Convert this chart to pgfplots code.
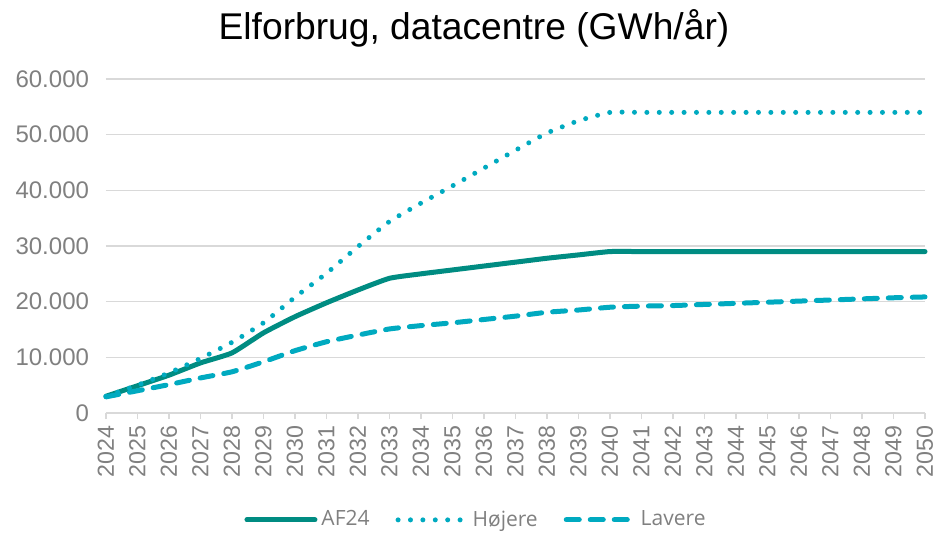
\documentclass[border=0pt]{standalone}
\usepackage{fontspec}
\setmainfont{Liberation Sans}
\newfontfamily\legfont{Open Sans}
\usepackage{pgfplots}
\pgfplotsset{compat=1.18}
\definecolor{afc}{RGB}{0,140,130}
\definecolor{hic}{RGB}{0,170,192}
\definecolor{tickc}{RGB}{128,128,128}
\definecolor{gridc}{RGB}{217,217,217}
\begin{document}
\begin{tikzpicture}
\path[use as bounding box] (0bp,0bp) rectangle (467.5bp,268.5bp);
\node[font=\fontsize{18.6bp}{21bp}\selectfont, anchor=center] at (237bp,254.5bp) {Elforbrug, datacentre (GWh/år)};
\begin{axis}[
  at={(53bp,62bp)}, anchor=south west,
  width=409.5bp, height=167bp, scale only axis,
  xmin=2024, xmax=2050, ymin=0, ymax=60000,
  xtick={2024,...,2050}, ytick={0,10000,...,60000},
  scaled y ticks=false,
  /pgf/number format/assume math mode=true,
  x tick label style={/pgf/number format/1000 sep={}, rotate=90, anchor=east, font=\fontsize{11.6bp}{14bp}\selectfont, text=tickc},
  y tick label style={/pgf/number format/1000 sep={.}, font=\fontsize{12bp}{14bp}\selectfont, text=tickc, xshift=-5bp},
  ymajorgrids, grid style={draw=gridc, line width=0.7bp},
  axis x line*=bottom, axis y line*=left,
  x axis line style={draw=gridc, line width=0.7bp, -},
  y axis line style={draw=none},
  xtick pos=bottom, ytick pos=left, xtick align=outside, major tick length=3bp,
  xtick style={draw=gridc, line width=0.7bp},
  ytick style={draw=none},
  legend style={at={(axis description cs:0.453,-0.32)}, anchor=center, draw=none, fill=none,
    legend columns=3, font=\legfont\fontsize{10.5bp}{12bp}\selectfont, text=tickc,
    /tikz/every even column/.append style={column sep=11bp}},
  legend image code/.code={\draw[#1] (0bp,0bp) -- (34bp,0bp);},
  every axis plot/.append style={line cap=round, line join=round, smooth, tension=0.3},
  clip=false,
]
\addplot[afc, line width=2.5bp] coordinates {
(2024,3000)(2025,4900)(2026,6800)(2027,9000)(2028,10800)(2029,14400)(2030,17300)
(2031,19800)(2032,22100)(2033,24200)(2034,25000)(2035,25700)(2036,26400)(2037,27100)
(2038,27800)(2039,28400)(2040,29000)(2041,29000)(2042,29000)(2043,29000)(2044,29000)
(2045,29000)(2046,29000)(2047,29000)(2048,29000)(2049,29000)(2050,29000)};
\addlegendentry{AF24}
\addplot[hic, line width=2.5bp, dash pattern=on 0bp off 6.2bp] coordinates {
(2024,3000)(2025,5000)(2026,7200)(2027,9800)(2028,12700)(2029,16200)(2030,20800)
(2031,25100)(2032,29900)(2033,34400)(2034,37700)(2035,40800)(2036,44000)(2037,47200)
(2038,50300)(2039,52500)(2040,54000)(2041,54000)(2042,54000)(2043,54000)(2044,54000)
(2045,54000)(2046,54000)(2047,54000)(2048,54000)(2049,54000)(2050,54000)};
\addlegendentry{Højere}
\addplot[hic, line width=2.5bp, dash pattern=on 6.5bp off 5.5bp] coordinates {
(2024,2900)(2025,4000)(2026,5100)(2027,6300)(2028,7400)(2029,9200)(2030,11200)
(2031,12800)(2032,14000)(2033,15100)(2034,15700)(2035,16200)(2036,16800)(2037,17400)
(2038,18100)(2039,18500)(2040,19000)(2041,19200)(2042,19300)(2043,19500)(2044,19700)
(2045,19900)(2046,20100)(2047,20300)(2048,20500)(2049,20700)(2050,20850)};
\addlegendentry{Lavere}
\end{axis}
\end{tikzpicture}
\end{document}
